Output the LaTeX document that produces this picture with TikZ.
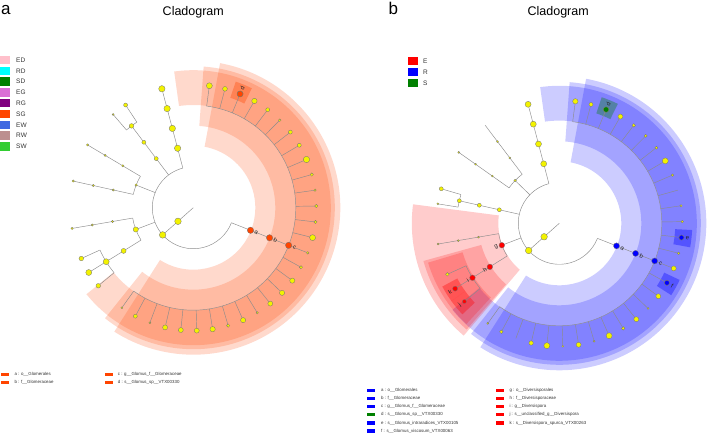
\documentclass[tikz,border=0pt]{standalone}
\usepackage{fontspec}
\setmainfont{Liberation Sans}
\definecolor{cgyellow}{RGB}{242,242,0}
\definecolor{cgorange}{RGB}{255,69,0}
\definecolor{cgred}{RGB}{255,0,0}
\definecolor{cgblue}{RGB}{0,0,255}
\definecolor{cggreen}{RGB}{0,128,0}
\definecolor{cgedge}{RGB}{140,140,140}
\definecolor{lED}{RGB}{255,192,203}
\definecolor{lRD}{RGB}{0,255,255}
\definecolor{lSD}{RGB}{0,128,0}
\definecolor{lEG}{RGB}{218,112,214}
\definecolor{lRG}{RGB}{128,0,128}
\definecolor{lSG}{RGB}{255,69,0}
\definecolor{lEW}{RGB}{65,105,225}
\definecolor{lRW}{RGB}{188,143,143}
\definecolor{lSW}{RGB}{50,205,50}
\newcommand{\cgRad}[3]{\draw[edgeline] (#1:#2) -- (#1:#3);}
\newcommand{\cgArc}[3]{\draw[edgeline] (#2:#1) arc[start angle=#2, end angle=#3, radius=#1];}
\newcommand{\cgBand}[6]{\fill[#1, fill opacity=#6] (#4:#2) arc[start angle=#4,end angle=#5,radius=#2] -- (#5:#3) arc[start angle=#5,end angle=#4,radius=#3] -- cycle;}
\begin{document}
\begin{tikzpicture}[x=1pt,y=-1pt,
  edgeline/.style={draw=cgedge, line width=0.45pt},
  dot/.style={circle, inner sep=0pt, outer sep=0pt, draw=black!55, line width=0.3pt},
  lab/.style={font=\fontsize{6}{6}\selectfont, inner sep=0pt, text=black!85},
  legsq/.style={inner sep=0pt, minimum width=10pt, minimum height=8.3pt, anchor=west},
  legtxt/.style={font=\fontsize{6.5}{7}\selectfont, inner sep=0pt, anchor=west, text=black!80},
  legbar/.style={inner sep=0pt, minimum width=8.4pt, minimum height=3.4pt, anchor=west},
  legsmall/.style={font=\fontsize{4.4}{5}\selectfont, inner sep=0pt, anchor=west, text=black!80},
  title/.style={font=\fontsize{12.5}{13}\selectfont, anchor=base, inner sep=0pt},
  panel/.style={font=\fontsize{17}{17}\selectfont, anchor=base west, inner sep=0pt}]
\useasboundingbox (0,0) rectangle (709,435);
\fill[white] (0,0) rectangle (709,435);

% ---------- titles ----------
\node[panel] (pla) at (1,15) {a};
\node[panel] (plb) at (388.5,15) {b};
\node[title] (tia) at (193.3,15.3) {Cladogram};
\node[title] (tib) at (558.2,15.3) {Cladogram};

% ---------- legend a (top) ----------
\foreach \c/\t [count=\k from 0] in {lED/ED,lRD/RD,lSD/SD,lEG/EG,lRG/RG,lSG/SG,lEW/EW,lRW/RW,lSW/SW}{
  \node[legsq, fill=\c] (lgsq\k) at (0,{60+10.8*\k}) {};
  \node[legtxt] (lgtx\k) at (16,{60+10.8*\k}) {\t};
}
% ---------- legend b (top) ----------
\foreach \c/\t [count=\k from 0] in {cgred/E,cgblue/R,cggreen/S}{
  \node[legsq, fill=\c] (lbsq\k) at (407.7,{60.8+11*\k}) {};
  \node[legtxt] (lbtx\k) at (423,{60.8+11*\k}) {\t};
}

% ---------- bottom legend a ----------
\node[legbar, fill=cgorange] (bla1) at (0.7,374.3) {};
\node[legsmall] (tla1) at (14.3,374.3) {a : o\_\_Glomerales};
\node[legbar, fill=cgorange] (bla2) at (0.7,382.3) {};
\node[legsmall] (tla2) at (14.3,382.3) {b : f\_\_Glomeraceae};
\node[legbar, fill=cgorange] (bla3) at (104.3,374.3) {};
\node[legsmall] (tla3) at (117.7,374.3) {c : g\_\_Glomus\_f\_\_Glomeraceae};
\node[legbar, fill=cgorange] (bla4) at (104.3,382.3) {};
\node[legsmall] (tla4) at (117.7,382.3) {d : s\_\_Glomus\_sp\_\_VTX00330};

% ---------- bottom legend b ----------
\foreach \c/\t [count=\k from 0] in {cgblue/{a : o\_\_Glomerales},cgblue/{b : f\_\_Glomeraceae},cgblue/{c : g\_\_Glomus\_f\_\_Glomeraceae},cggreen/{d : s\_\_Glomus\_sp\_\_VTX00330},cgblue/{e : s\_\_Glomus\_intraradices\_VTX00105},cgblue/{f : s\_\_Glomus\_viscosum\_VTX00063}}{
  \node[legbar, fill=\c] (blb\k) at (366.7,{390.3+8.15*\k}) {};
  \node[legsmall] (tlb\k) at (381,{390.3+8.15*\k}) {\t};
}
\foreach \t [count=\k from 0] in {{g : o\_\_Diversisporales},{h : f\_\_Diversisporaceae},{i : g\_\_Diversispora},{j : s\_\_unclassified\_g\_\_Diversispora},{k : s\_\_Diversispora\_spurca\_VTX00263}}{
  \node[legbar, fill=cgred] (blc\k) at (495.7,{390.3+8.15*\k}) {};
  \node[legsmall] (tlc\k) at (509.3,{390.3+8.15*\k}) {\t};
}

% =============== PANEL A TREE ===============
\begin{scope}[shift={(193.3,207.7)}, y=1pt]
  \cgBand{cgorange}{62}{147}{-122.5}{79.5}{0.2}
  \cgBand{cgorange}{82}{141.5}{-128.6}{85.8}{0.2}
  \cgBand{cgorange}{102.7}{137.5}{-141}{98}{0.2}
  \cgBand{cgorange}{116}{133}{63.9}{71.4}{0.35}
  % edges
  \cgRad{221.6}{0}{41}
  \cgArc{41}{104.8}{338.45}
  \cgRad{104.8}{41}{123}
  \cgRad{127.05}{41}{102.5}
  \cgArc{102.5}{123.4}{130.7}
  \cgRad{123.4}{102.5}{123}
  \cgRad{130.7}{102.5}{123}
  \cgRad{158.4}{41}{61.5}
  \cgArc{61.5}{149.3}{167.5}
  \cgRad{149.3}{61.5}{123}
  \cgRad{167.5}{61.5}{123}
  \cgRad{200.75}{41}{61.5}
  \cgArc{61.5}{189.7}{211.8}
  \cgRad{189.7}{61.5}{123}
  \cgRad{211.8}{61.5}{102.5}
  \cgArc{102.5}{204.4}{219.4}
  \cgRad{204.4}{102.5}{123}
  \cgRad{211.8}{102.5}{123}
  \cgRad{219.4}{102.5}{123}
  \cgRad{338.45}{41}{102.5}
  \cgArc{102.5}{-125.54}{82.5}
  % nodes
  \node[dot, fill=cgyellow, minimum size=6.6pt] (aP) at (221.6:20.5) {};
  \node[dot, fill=cgyellow, minimum size=6.6pt] (aC) at (221.6:41) {};
  \foreach \r [count=\k] in {61.5,82,102.5,123}{
    \node[dot, fill=cgyellow, minimum size=6.4pt] (aq\k) at (104.8:\r) {};
  }
  \node[dot, fill=cgyellow, minimum size=4pt] (ar1) at (127.05:61.5) {};
  \node[dot, fill=cgyellow, minimum size=4pt] (ar2) at (127.05:82) {};
  \node[dot, fill=cgyellow, minimum size=4.6pt] (ar3) at (127.05:102.5) {};
  \node[dot, fill=cgyellow, minimum size=4pt] (ar4) at (123.4:123) {};
  \node[dot, fill=cgyellow, minimum size=2pt] (ar5) at (130.7:123) {};
  \node[dot, fill=cgyellow, minimum size=2.4pt] (as0) at (158.4:61.5) {};
  \foreach \r [count=\k] in {82,102.5,123}{
    \node[dot, fill=cgyellow, minimum size=2.3pt] (asu\k) at (149.3:\r) {};
    \node[dot, fill=cgyellow, minimum size=2.3pt] (asl\k) at (167.5:\r) {};
    \node[dot, fill=cgyellow, minimum size=2.3pt] (atu\k) at (189.7:\r) {};
  }
  \node[dot, fill=cgyellow, minimum size=5.2pt] (at0) at (200.75:61.5) {};
  \node[dot, fill=cgyellow, minimum size=5pt] (at1) at (211.8:82) {};
  \node[dot, fill=cgyellow, minimum size=6pt] (at2) at (211.8:102.5) {};
  \node[dot, fill=cgyellow, minimum size=4.6pt] (at3) at (204.4:123) {};
  \node[dot, fill=cgyellow, minimum size=6pt] (at4) at (211.8:123) {};
  \node[dot, fill=cgyellow, minimum size=4.6pt] (at5) at (219.4:123) {};
  \foreach \s [count=\i from 0] in {3,2.4,3,2.7,2,1.3,2,2,3.2,1.7,1.2,1.7,1.6,3,1.3,1.6,2.6,2.6,2.5,1.2,2.6,1.7,2.7,2.5,2.5,2.5,1,2,1}{
    \pgfmathsetmacro\ang{82.5-7.43*\i}
    \pgfmathsetmacro\dd{2*\s}
    \cgRad{\ang}{102.5}{123}
    \node[dot, fill=cgyellow, minimum size=\dd pt] (asp\i) at (\ang:123) {};
  }
  \node[dot, fill=cgorange, minimum size=6.4pt] (aA) at (338.45:61.5) {};
  \node[dot, fill=cgorange, minimum size=6.4pt] (aB) at (338.45:82) {};
  \node[dot, fill=cgorange, minimum size=6.4pt] (aCc) at (338.45:102.5) {};
  \node[dot, fill=cgorange, minimum size=6pt] (aD) at (67.64:123) {};
  \node[lab, rotate=-21.55] (laA) at (338.45:67.8) {a};
  \node[lab, rotate=-21.55] (laB) at (338.45:88.3) {b};
  \node[lab, rotate=-21.55] (laC) at (338.45:108.8) {c};
  \node[lab, rotate=67.64] (laD) at (67.64:129) {d};
\end{scope}

% =============== PANEL B TREE ===============
\begin{scope}[shift={(559.3,223.3)}, y=1pt]
  \cgBand{cgblue}{62}{147}{-122.5}{79.5}{0.2}
  \cgBand{cgblue}{82}{141.5}{-128.6}{85.8}{0.2}
  \cgBand{cgblue}{102.7}{137.5}{-141}{98}{0.2}
  \cgBand{cgred}{61}{147.5}{172.6}{229.6}{0.2}
  \cgBand{cgred}{81}{141}{195.5}{228.9}{0.2}
  \cgBand{cgred}{101}{137}{196.7}{227.3}{0.2}
  \cgBand{cgred}{116}{133}{208.4}{215.8}{0.35}
  \cgBand{cgred}{116}{133}{215.8}{223.2}{0.35}
  \cgBand{cggreen}{116}{133}{63.9}{71.4}{0.35}
  \cgBand{cgblue}{116}{133}{-10.4}{-2.9}{0.35}
  \cgBand{cgblue}{116}{133}{-32.7}{-25.2}{0.35}
  % edges
  \cgRad{221.6}{0}{41}
  \cgArc{41}{104.7}{338.45}
  \cgRad{104.7}{41}{123}
  \cgRad{135.95}{41}{61.5}
  \cgArc{61.5}{127.1}{144.8}
  \cgRad{127.1}{61.5}{123}
  \cgRad{144.8}{61.5}{123}
  \cgRad{167.3}{41}{102.5}
  \cgArc{102.5}{163.7}{170.9}
  \cgRad{163.7}{102.5}{123}
  \cgRad{170.9}{102.5}{123}
  \cgRad{200.9}{41}{61.5}
  \cgArc{61.5}{189.7}{212.1}
  \cgRad{189.7}{61.5}{123}
  \cgRad{212.1}{61.5}{102.5}
  \cgArc{102.5}{204.5}{219.5}
  \cgRad{204.5}{102.5}{123}
  \cgRad{212.1}{102.5}{123}
  \cgRad{219.5}{102.5}{123}
  \cgRad{338.45}{41}{102.5}
  \cgArc{102.5}{-125.54}{82.5}
  % nodes
  \node[dot, fill=cgyellow, minimum size=6.6pt] (bP) at (221.6:20.3) {};
  \node[dot, fill=cgyellow, minimum size=6.6pt] (bC) at (221.6:41) {};
  \foreach \r [count=\k] in {61.5,82,102.5,123}{
    \node[dot, fill=cgyellow, minimum size=6pt] (bq\k) at (104.7:\r) {};
  }
  \node[dot, fill=cgyellow, minimum size=2.6pt] (br0) at (135.95:61.5) {};
  \foreach \r [count=\k] in {82,102.5}{
    \node[dot, fill=cgyellow, minimum size=2pt] (bru\k) at (127.1:\r) {};
  }
  \foreach \r [count=\k] in {82,102.5,123}{
    \node[dot, fill=cgyellow, minimum size=2pt] (brl\k) at (144.8:\r) {};
    \node[dot, fill=cgyellow, minimum size=2pt] (bgu\k) at (189.7:\r) {};
  }
  \foreach \r [count=\k] in {61.5,82,102.5}{
    \node[dot, fill=cgyellow, minimum size=4pt] (bs\k) at (167.3:\r) {};
  }
  \node[dot, fill=cgyellow, minimum size=4pt] (bs4) at (163.7:123) {};
  \node[dot, fill=cgyellow, minimum size=2pt] (bs5) at (170.9:123) {};
  \node[dot, fill=cgyellow, minimum size=3.6pt] (bt3) at (204.5:123) {};
  \foreach \s [count=\i from 0] in {2.7,2,2.7,2.5,1.8,1.5,1.5,3,1.3,0,1.2,1.3,2.5,1.3,2.5,2.5,2.5,1,2.5,1.7,3,1,2.5,1,3,2.2,0,1.8,1}{
    \pgfmathsetmacro\ang{82.5-7.43*\i}
    \pgfmathsetmacro\dd{2*\s}
    \cgRad{\ang}{102.5}{123}
    \ifdim\s pt>0pt
      \node[dot, fill=cgyellow, minimum size=\dd pt] (bsp\i) at (\ang:123) {};
    \fi
  }
  \node[dot, fill=cgblue, minimum size=6pt] (bA) at (338.45:61.5) {};
  \node[dot, fill=cgblue, minimum size=6pt] (bB) at (338.45:82) {};
  \node[dot, fill=cgblue, minimum size=6pt] (bCc) at (338.45:102.5) {};
  \node[dot, fill=cggreen, minimum size=5.4pt] (bD) at (67.64:123) {};
  \node[dot, fill=cgblue, minimum size=5pt] (bE) at (-6.66:123) {};
  \node[dot, fill=cgblue, minimum size=5pt] (bF) at (-28.95:123) {};
  \node[dot, fill=cgred, minimum size=5.6pt] (bG) at (200.9:61.5) {};
  \node[dot, fill=cgred, minimum size=5.6pt] (bH) at (212.1:82) {};
  \node[dot, fill=cgred, minimum size=5.6pt] (bI) at (212.1:102.5) {};
  \node[dot, fill=cgred, minimum size=5pt] (bK) at (212.1:123) {};
  \node[dot, fill=cgred, minimum size=4pt] (bJ) at (219.5:123) {};
  \node[lab, rotate=-21.55] (lbA) at (338.45:67.8) {a};
  \node[lab, rotate=-21.55] (lbB) at (338.45:88.3) {b};
  \node[lab, rotate=-21.55] (lbC) at (338.45:108.8) {c};
  \node[lab, rotate=67.64] (lbD) at (67.64:129) {d};
  \node[lab, rotate=-6.66] (lbE) at (-6.66:129) {e};
  \node[lab, rotate=-28.95] (lbF) at (-28.95:129) {f};
  \node[lab, rotate=20.9] (lbG) at (200.9:67.5) {g};
  \node[lab, rotate=32.1] (lbH) at (212.1:88) {h};
  \node[lab, rotate=32.1] (lbI) at (212.1:108) {i};
  \node[lab, rotate=39.5] (lbJ) at (219.5:129) {j};
  \node[lab, rotate=32.1] (lbK) at (212.1:129) {k};
\end{scope}
\end{tikzpicture}
\end{document}
